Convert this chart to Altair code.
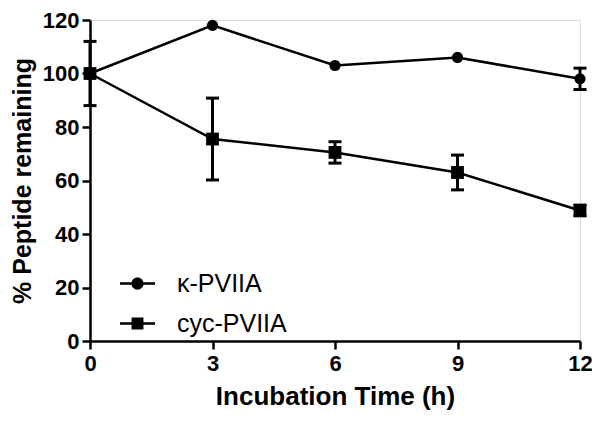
import altair as alt
import pandas as pd

times = [0, 3, 6, 9, 12]
series_names = ["κ-PVIIA", "cyc-PVIIA"]
kappa_mean = [100, 118, 103, 106, 98]
kappa_err = [0, 0, 0, 0, 4]
cyc_mean = [100, 75.5, 70.5, 63, 48.8]
cyc_err = [12, 15.3, 4, 6.5, 2]

rows = []
for name, means, errs in [(series_names[0], kappa_mean, kappa_err), (series_names[1], cyc_mean, cyc_err)]:
    for t, m, e in zip(times, means, errs):
        rows.append({"t": t, "series": name, "legend_series": name, "mean": m,
                     "lo": m - e, "hi": m + e, "err": e})
df = pd.DataFrame(rows)
df_err = df[df["err"] > 0]

FONT = "Liberation Sans"

x_enc = alt.X("t:Q", scale=alt.Scale(domain=[0, 12], nice=False, zero=False),
              axis=alt.Axis(values=times, title="Incubation Time (h)", grid=False,
                            domainColor="black", domainWidth=2.5, tickColor="black",
                            tickWidth=2.5, tickSize=8, labelFont=FONT, labelFontSize=22,
                            labelFontWeight="bold", labelColor="black", labelPadding=4,
                            titleFont=FONT, titleFontSize=26, titleFontWeight="bold",
                            titleColor="black", titlePadding=9, labelFlush=False))
y_scale = alt.Scale(domain=[0, 120], nice=False)
y_axis = alt.Axis(values=[0, 20, 40, 60, 80, 100, 120], title="% Peptide remaining", grid=False,
                  domainColor="black", domainWidth=2.5, tickColor="black", tickWidth=2.5,
                  tickSize=8, labelFont=FONT, labelFontSize=22, labelFontWeight="bold",
                  labelColor="black", labelPadding=3, titleFont=FONT, titleFontSize=25,
                  titleFontWeight="bold", titleColor="black", titlePadding=7, labelFlush=False)

base = alt.Chart(df)

lines = base.mark_line(color="black", strokeWidth=2.5).encode(
    x=x_enc, y=alt.Y("mean:Q", scale=y_scale, axis=y_axis), detail="series:N")

err_base = alt.Chart(df_err)
err_rules = err_base.mark_rule(color="black", strokeWidth=3).encode(
    x="t:Q", y=alt.Y("lo:Q", scale=y_scale), y2="hi:Q")
cap_lo = err_base.mark_tick(orient="horizontal", color="black", size=13, thickness=3, opacity=1).encode(
    x="t:Q", y=alt.Y("lo:Q", scale=y_scale))
cap_hi = err_base.mark_tick(orient="horizontal", color="black", size=13, thickness=3, opacity=1).encode(
    x="t:Q", y=alt.Y("hi:Q", scale=y_scale))

points = base.mark_point(filled=True, color="black", opacity=1).encode(
    x="t:Q", y="mean:Q",
    shape=alt.Shape("series:N", scale=alt.Scale(domain=series_names, range=["circle", "square"]),
                    legend=None),
    size=alt.Size("series:N", scale=alt.Scale(domain=series_names, range=[125, 165]), legend=None))

circle_path = ("M-1,-0.07H1V0.07H-1Z"
               "M0.35,0A0.35,0.35 0 1,1 -0.35,0A0.35,0.35 0 1,1 0.35,0Z")
square_path = "M-1,-0.07H1V0.07H-1ZM-0.34,-0.34H0.34V0.34H-0.34Z"

legend_layer = base.mark_point(filled=True, opacity=0, color="black").encode(
    x="t:Q", y="mean:Q",
    shape=alt.Shape("legend_series:N",
                    scale=alt.Scale(domain=series_names, range=[circle_path, square_path]),
                    legend=alt.Legend(title=None, orient="none", legendX=30, legendY=246,
                                      symbolSize=1225, symbolOpacity=1, symbolFillColor="black",
                                      symbolStrokeColor="black", symbolStrokeWidth=0,
                                      labelFont=FONT, labelFontSize=25, labelColor="black",
                                      rowPadding=9, labelOffset=22)))

chart = alt.layer(lines, err_rules, cap_lo, cap_hi, points, legend_layer).resolve_scale(
    shape="independent").properties(
    width=490, height=321,
    autosize=alt.AutoSizeParams(type="none"),
    padding={"left": 82, "top": 12, "right": 12, "bottom": 74},
).configure_view(stroke=None).configure(background="white")

chart.save("out.html", embed_options={"renderer": "svg", "actions": False})
